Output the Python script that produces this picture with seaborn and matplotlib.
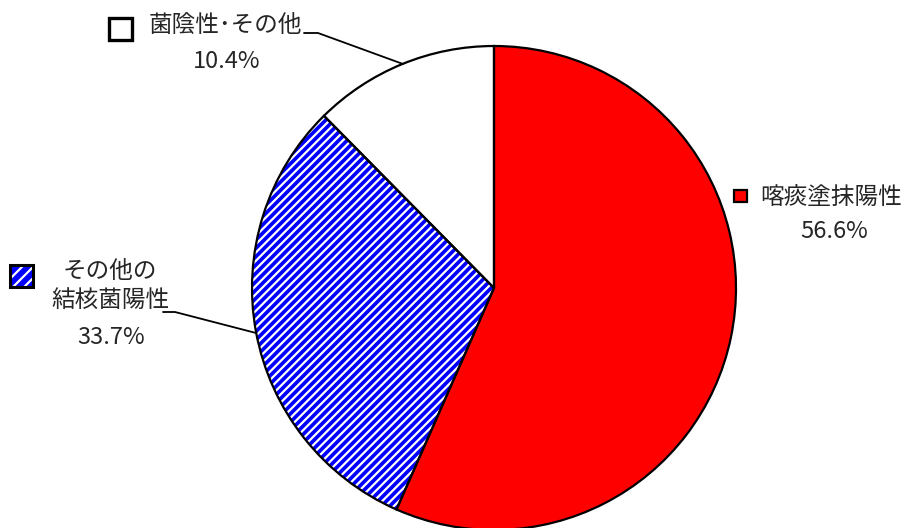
import matplotlib
matplotlib.use("Agg")
import matplotlib.pyplot as plt
import seaborn as sns
from matplotlib.patches import Rectangle

# shares as drawn in the chart (clockwise from 12 o'clock)
categories = ['喀痰塗抹陽性', 'その他の\n結核菌陽性', '菌陰性･その他']
shares = [56.6, 31.0, 12.4]
pct_labels = ['56.6%', '33.7%', '10.4%']
colors = ['#FF0000', '#0000FF', '#FFFFFF']
hatches = [None, '////', None]

sns.set_theme(style='white')
plt.rcParams['font.family'] = ['Noto Sans CJK JP', 'DejaVu Sans']
plt.rcParams['hatch.linewidth'] = 1.6

W, H = 912, 528
fig = plt.figure(figsize=(9.12, 5.28), dpi=100)
ax = fig.add_axes([0, 0, 1, 1])


def Y(y):
    # picture coords (top-down) -> axes coords
    return H - y


cx, cy, r = 494, 288, 242

# filled wedges (no outline, hatch drawn in white)
wedges, _ = ax.pie(shares, colors=colors, startangle=90, counterclock=False,
                   center=(cx, Y(cy)), radius=r, wedgeprops=dict(linewidth=0))
for w, h in zip(wedges, hatches):
    if h:
        w.set_edgecolor('white')
        w.set_hatch(h)

# black outlines on top
ax.pie(shares, colors=['none'] * 3, startangle=90, counterclock=False,
       center=(cx, Y(cy)), radius=r,
       wedgeprops=dict(linewidth=1.6, edgecolor='black'))

txt = dict(ha='center', va='center', fontsize=17, color='#262626', linespacing=1.3)

# label placements: (category centre, percent centre, marker box)
cat_pos = [(831, 197), (110, 286), (225, 25)]
pct_pos = [(834, 232), (111, 337), (227, 61)]
boxes = [(734, 190, 13, 12, 1.6), (10, 265, 23, 22, 2.2), (109, 18, 23, 22, 2.4)]

for i in range(3):
    ax.text(cat_pos[i][0], Y(cat_pos[i][1]), categories[i], **txt)
    ax.text(pct_pos[i][0], Y(pct_pos[i][1]), pct_labels[i], **txt)
    bx, by, bw, bh, lw = boxes[i]
    fill = Rectangle((bx, Y(by + bh)), bw, bh, facecolor=colors[i], linewidth=0)
    if hatches[i]:
        fill.set_edgecolor('white')
        fill.set_hatch('///')
    ax.add_patch(fill)
    ax.add_patch(Rectangle((bx, Y(by + bh)), bw, bh, facecolor='none',
                           edgecolor='black', linewidth=lw))

# leader lines
ax.plot([304, 318, 403], [Y(33), Y(33), Y(64)], color='black', lw=1.3)
ax.plot([163, 175, 256], [Y(312), Y(312), Y(333)], color='black', lw=1.3)

ax.set_xlim(0, W)
ax.set_ylim(0, H)
ax.set_aspect('auto')
ax.axis('off')

fig.savefig('out.png', dpi=100, facecolor='white')
